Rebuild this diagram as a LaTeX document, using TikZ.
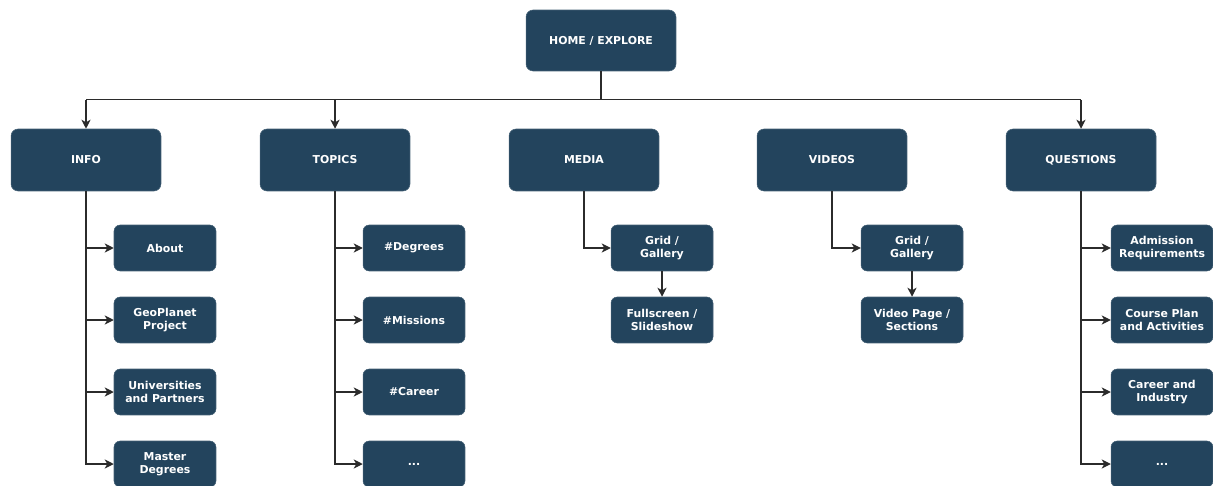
\documentclass[tikz,border=0pt]{standalone}
\usepackage{fontspec}
\setmainfont{DejaVu Sans}
\usepackage{xcolor}
\usepackage{tikz}
\usetikzlibrary{arrows.meta,positioning,calc}
\definecolor{ink}{HTML}{2B2B2B}
\definecolor{navy}{HTML}{23445D}

\begin{document}
\begin{tikzpicture}[
  x=0.02cm, y=-0.02cm,
  font=\fontsize{6.2}{7.6}\selectfont\bfseries,
  box/.style={rounded corners=4pt, fill=navy, draw=navy!85!white, line width=0.3pt, text=white, align=center, inner sep=2pt},
  mainbox/.style={box, minimum width=3cm, minimum height=1.24cm},
  subbox/.style={box, rounded corners=3.5pt, minimum width=2.04cm, minimum height=0.92cm},
  conn/.style={draw=ink, line width=0.65pt},
  arrow/.style={conn, -{Stealth[length=1.8mm, width=1.8mm, inset=0.5mm]}}
]
\useasboundingbox (0,0) rectangle (1213,486);

% top and sections
\node[mainbox, minimum height=1.22cm] (home) at (601,40.5) {HOME / EXPLORE};
\node[mainbox] (info) at (86,160) {INFO};
\node[mainbox] (topics) at (335,160) {TOPICS};
\node[mainbox] (media) at (584,160) {MEDIA};
\node[mainbox] (videos) at (832,160) {VIDEOS};
\node[mainbox] (questions) at (1081,160) {QUESTIONS};

% hub line
\draw[conn] (home.south) -- ++(0,28.5) coordinate (hub);
\draw[conn] (info.north |- hub) -- (questions.north |- hub);
\foreach \n in {info,topics,questions}
  \draw[arrow] (\n.north |- hub) -- (\n.north);

% lists
\foreach \t [count=\i] in {About,GeoPlanet\\Project,Universities\\and Partners,Master\\Degrees} {
  \node[subbox] (info-\i) at (165,176+72*\i) {\t};
  \draw[arrow] (info.south) |- (info-\i.west);
}
\foreach \t [count=\i] in {\#Degrees,\#Missions,\#Career,.{}.{}.} {
  \node[subbox] (topics-\i) at (414,176+72*\i) {\t};
  \draw[arrow] (topics.south) |- (topics-\i.west);
}
\foreach \t [count=\i] in {Admission\\Requirements,Course Plan\\and Activities,Career and\\Industry,.{}.{}.} {
  \node[subbox] (questions-\i) at (1162,176+72*\i) {\t};
  \draw[arrow] (questions.south) |- (questions-\i.west);
}

% media and videos
\node[subbox] (mgrid) at (662,248) {Grid /\\Gallery};
\node[subbox] (mfull) at (662,320) {Fullscreen /\\Slideshow};
\node[subbox] (vgrid) at (912,248) {Grid /\\Gallery};
\node[subbox] (vpage) at (912,320) {Video Page /\\Sections};
\draw[arrow] (media.south) |- (mgrid.west);
\draw[arrow] (mgrid) -- (mfull);
\draw[arrow] (videos.south) |- (vgrid.west);
\draw[arrow] (vgrid) -- (vpage);

\end{tikzpicture}
\end{document}
